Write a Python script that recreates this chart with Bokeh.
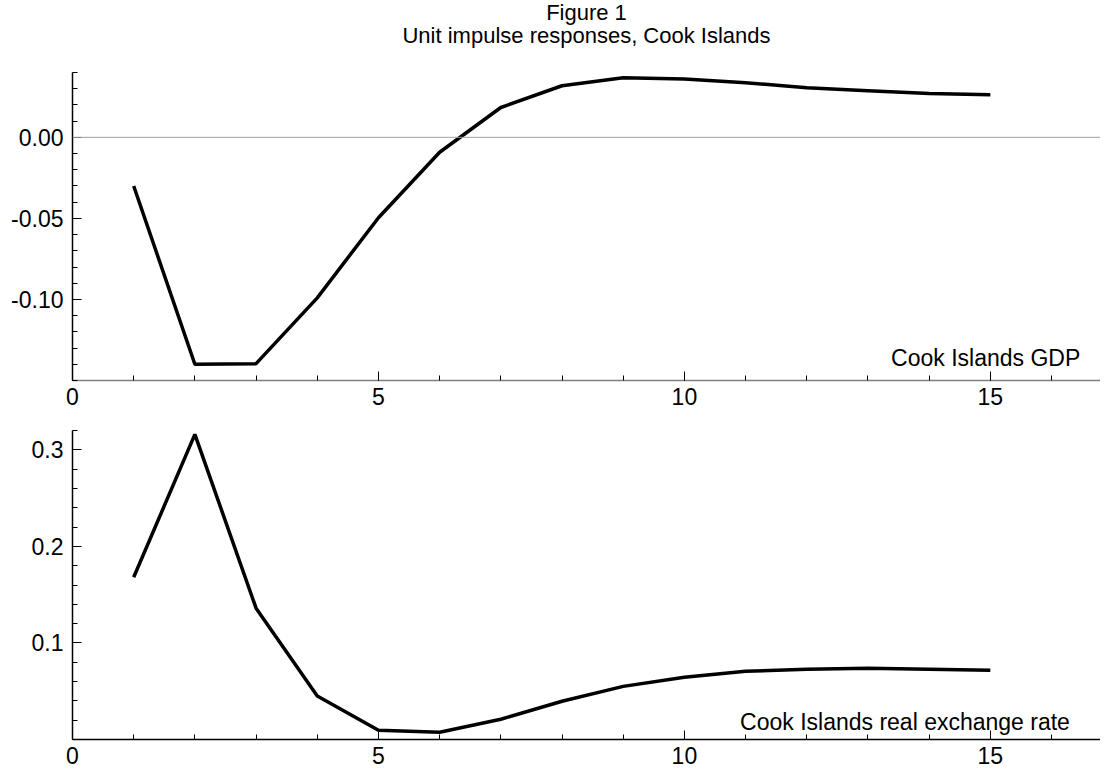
from bokeh.plotting import figure
from bokeh.layouts import column
from bokeh.models import FixedTicker, Span, Label
from bokeh.embed import file_html
from bokeh.resources import INLINE

periods = [1, 2, 3, 4, 5, 6, 7, 8, 9, 10, 11, 12, 13, 14, 15]
gdp = [-0.030, -0.140, -0.1396, -0.099, -0.0496, -0.0092, 0.0184, 0.0318,
       0.0367, 0.0360, 0.0337, 0.0306, 0.0288, 0.0270, 0.0263]
rer = [0.168, 0.316, 0.136, 0.045, 0.0096, 0.0075, 0.021, 0.0396,
       0.055, 0.0644, 0.0706, 0.0727, 0.0737, 0.0727, 0.0717]

x_major = [0, 5, 10, 15]
x_minor = list(range(0, 17))
gdp_major = [-0.10, -0.05, 0.00]
gdp_minor = [round(-0.15 + 0.01 * i, 2) for i in range(20)]
gdp_labels = {-0.10: "-0.10", -0.05: "-0.05", 0.00: "0.00"}
rer_major = [0.1, 0.2, 0.3]
rer_minor = [round(0.02 * i, 2) for i in range(17)]
rer_labels = {0.1: "0.1", 0.2: "0.2", 0.3: "0.3"}

title_lines = ["Figure 1", "Unit impulse responses, Cook Islands"]

FONT = "Liberation Sans"
TICK_FS = "23px"


def style_axes(p, xaxis_color):
    for ax in (p.xaxis[0], p.yaxis[0]):
        ax.major_tick_in = 9
        ax.major_tick_out = 0
        ax.minor_tick_in = 5
        ax.minor_tick_out = 0
        ax.major_tick_line_color = "black"
        ax.minor_tick_line_color = "black"
        ax.major_label_text_font = FONT
        ax.major_label_text_font_size = TICK_FS
        ax.major_label_text_color = "black"
    p.yaxis[0].axis_line_color = "black"
    p.yaxis[0].axis_line_width = 1.5
    p.xaxis[0].axis_line_color = xaxis_color
    p.xaxis[0].axis_line_width = 1.5
    p.xaxis[0].major_label_standoff = 7
    p.yaxis[0].major_label_standoff = 9
    p.xgrid.visible = False
    p.ygrid.visible = False
    p.outline_line_color = None
    p.xaxis[0].ticker = FixedTicker(ticks=x_major, minor_ticks=x_minor)
    p.xaxis[0].major_label_overrides = {v: str(v) for v in x_major}


XR = (0, 16.8)
GDP_TOP = 0.0844  # room above the axis for the figure title

p1 = figure(width=1100, height=412, x_range=XR, y_range=(-0.15, GDP_TOP),
            output_backend="svg", toolbar_location=None,
            min_border_left=72, min_border_right=0, min_border_top=0,
            min_border_bottom=32)
style_axes(p1, "#808080")
p1.yaxis[0].bounds = (-0.15, 0.04)
p1.yaxis[0].ticker = FixedTicker(ticks=gdp_major, minor_ticks=gdp_minor)
p1.yaxis[0].major_label_overrides = gdp_labels
p1.add_layout(Span(location=0, dimension="width", line_color="#a0a0a0", line_width=1))
p1.line(periods, gdp, line_color="black", line_width=3.5)
p1.add_layout(Label(x=16.47, y=-0.136, text="Cook Islands GDP", text_align="right",
                    text_baseline="alphabetic", text_font=FONT, text_font_size="23px",
                    text_color="black"))
# two-line figure title, centred over the plotting area
p1.add_layout(Label(x=8.4, y=0.0772, text=title_lines[0], text_align="center",
                    text_baseline="middle", text_font=FONT, text_font_size="22px",
                    text_color="black"))
p1.add_layout(Label(x=8.4, y=0.0626, text=title_lines[1], text_align="center",
                    text_baseline="middle", text_font=FONT, text_font_size="22px",
                    text_color="black"))

p2 = figure(width=1100, height=358, x_range=XR, y_range=(0.0, 0.32),
            output_backend="svg", toolbar_location=None,
            min_border_left=72, min_border_right=0, min_border_top=18,
            min_border_bottom=31)
style_axes(p2, "black")
p2.yaxis[0].ticker = FixedTicker(ticks=rer_major, minor_ticks=rer_minor)
p2.yaxis[0].major_label_overrides = rer_labels
p2.line(periods, rer, line_color="black", line_width=3.5)
p2.add_layout(Label(x=16.3, y=0.018, text="Cook Islands real exchange rate", text_align="right",
                    text_baseline="alphabetic", text_font=FONT, text_font_size="23px",
                    text_color="black"))

layout = column(p1, p2, spacing=0)
open("out.html", "w").write(file_html(layout, INLINE))
